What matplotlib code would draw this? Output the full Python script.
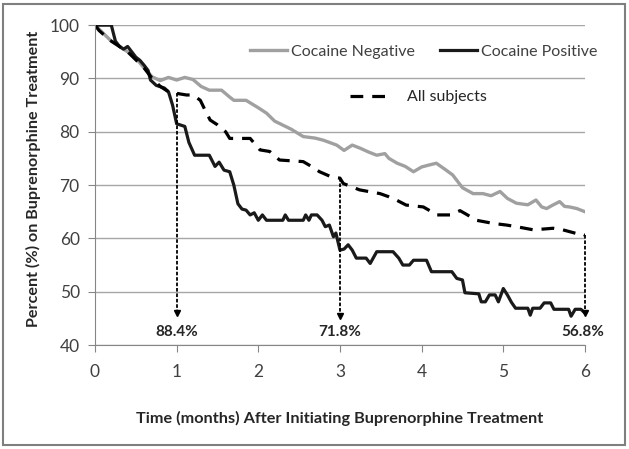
import matplotlib.pyplot as plt
from matplotlib.patches import Rectangle
from matplotlib.lines import Line2D

plt.rcParams['font.family'] = ['Lato', 'DejaVu Sans']

# Cocaine negative (grey)
neg_x = [0, 0.1, 0.2, 0.3, 0.4, 0.5, 0.6, 0.7, 0.8, 0.9, 1.0, 1.1, 1.2, 1.3, 1.4,
         1.55, 1.65, 1.7, 1.85, 2.0, 2.1, 2.2, 2.4, 2.55, 2.7, 2.8, 2.96, 3.05, 3.15,
         3.25, 3.35, 3.45, 3.55, 3.6, 3.7, 3.8, 3.9, 4.0, 4.1, 4.18, 4.3, 4.38, 4.45,
         4.5, 4.63, 4.75, 4.85, 4.96, 5.05, 5.16, 5.3, 5.4, 5.47, 5.53, 5.6, 5.69,
         5.75, 5.81, 5.9, 6.0]
neg_y = [100, 98.5, 97, 96, 95, 93.8, 92, 90.3, 89.6, 90.2, 89.7, 90.2, 89.8, 88.5, 87.8,
         87.8, 86.5, 85.9, 85.9, 84.5, 83.5, 82, 80.5, 79.1, 78.8, 78.4, 77.5, 76.5, 77.5,
         76.9, 76.2, 75.6, 75.9, 75, 74.1, 73.5, 72.5, 73.4, 73.8, 74.1, 72.8, 71.9, 70.5,
         69.5, 68.4, 68.4, 68, 68.8, 67.5, 66.6, 66.3, 67.2, 65.9, 65.6, 66.2, 66.9,
         66, 65.9, 65.6, 65.0]

# Cocaine positive (black)
pos_x = [0, 0.2, 0.25, 0.3, 0.35, 0.4, 0.45, 0.5, 0.55, 0.6, 0.65, 0.68, 0.75, 0.85,
         0.9, 0.95, 1.0, 1.1, 1.15, 1.22, 1.4, 1.47, 1.52, 1.58, 1.65, 1.7, 1.75, 1.8,
         1.85, 1.9, 1.95, 2.0, 2.05, 2.1, 2.3, 2.33, 2.37, 2.55, 2.58, 2.62, 2.65, 2.72,
         2.78, 2.82, 2.87, 2.92, 2.95, 3.0, 3.05, 3.1, 3.15, 3.2, 3.32, 3.37, 3.45, 3.65,
         3.72, 3.77, 3.85, 3.9, 4.06, 4.12, 4.37, 4.43, 4.5, 4.53, 4.7, 4.73, 4.78, 4.83,
         4.9, 4.94, 5.0, 5.05, 5.1, 5.15, 5.3, 5.33, 5.36, 5.45, 5.5, 5.58, 5.62, 5.8,
         5.83, 5.88, 5.95, 6.0]
pos_y = [100, 100, 97, 96, 95.5, 96, 95, 94, 93.4, 92.5, 91.5, 89.7, 88.7, 88.2,
         87.5, 85, 81.5, 81, 78, 75.6, 75.6, 73.5, 74.3, 72.8, 72.5, 70, 66.5, 65.5,
         65.3, 64.4, 64.8, 63.4, 64.4, 63.4, 63.4, 64.4, 63.4, 63.4, 64.4, 63.4, 64.4, 64.4,
         63.4, 62.2, 62.5, 60.3, 61, 57.8, 58, 58.8, 57.8, 56.3, 56.3, 55.3, 57.5, 57.5,
         56.3, 55, 55, 55.9, 55.9, 53.75, 53.75, 52.5, 52.2, 49.8, 49.6, 48.1, 48.1, 49.4,
         49.4, 48.1, 50.6, 49.4, 48, 46.9, 46.9, 45.6, 46.9, 46.9, 47.9, 47.9, 46.7, 46.7,
         45.4, 46.7, 46.7, 46.0]

# All subjects (dashed)
all_x = [0, 0.05, 0.18, 0.3, 0.4, 0.5, 0.6, 0.7, 0.8, 0.9, 1.0, 1.12, 1.2, 1.29, 1.35,
         1.41, 1.5, 1.6, 1.65, 1.9, 2.02, 2.14, 2.26, 2.55, 2.65, 2.75, 2.9, 3.0, 3.04,
         3.24, 3.49, 3.6, 3.69, 3.81, 4.02, 4.1, 4.18, 4.35, 4.47, 4.55, 4.67, 4.88,
         5.04, 5.16, 5.37, 5.61, 5.73, 5.9, 5.95, 6.0]
all_y = [100, 99, 97.2, 96, 95, 93.5, 92, 90, 88.5, 87.5, 87.2, 86.9, 86.9, 85.9, 84,
         82.2, 81.3, 80, 78.75, 78.75, 76.6, 76.3, 74.7, 74.4, 73.5, 72.5, 71.5, 71.3, 70.3,
         69.1, 68.4, 67.8, 67.2, 66.25, 65.9, 65.2, 64.4, 64.4, 65.2, 64.5, 63.4, 62.8,
         62.5, 62.2, 61.6, 61.9, 61.6, 60.9, 61, 60.6]

# retention callouts
arrow_x = [1, 3, 6]
arrow_top = [87.3, 71.4, 60.7]
arrow_bottom = [46, 45.5, 46]
arrow_labels = ['88.4%', '71.8%', '56.8%']
label_x = [1, 3, 5.97]

fig = plt.figure(figsize=(6.29, 4.49), dpi=100)
ax = fig.add_axes([0.151, 0.2316, 0.779, 0.7124])

ax.plot(neg_x, neg_y, color='#a0a0a0', lw=2.4)
ax.plot(pos_x, pos_y, color='#1a1a1a', lw=2.3)
ax.plot(all_x, all_y, color='black', lw=2.3, dashes=(4, 2.8))

for x, top, bot in zip(arrow_x, arrow_top, arrow_bottom):
    ax.plot([x, x], [top, bot + 0.6], color='black', lw=1.3, dashes=(2, 1), clip_on=False)
    ax.plot([x], [bot], marker='v', color='black', ms=5, clip_on=False)
for x, lab in zip(label_x, arrow_labels):
    ax.text(x, 42.5, lab, ha='center', va='center', fontsize=11, fontweight='bold',
            color='#262626', clip_on=False)

ax.set_xlim(0, 6)
ax.set_ylim(40, 100)
ax.set_xticks(range(0, 7))
ax.set_yticks(range(40, 101, 10))
ax.grid(axis='y', color='#a6a6a6', lw=1)
ax.set_axisbelow(True)
for s in ['top', 'right']:
    ax.spines[s].set_visible(False)
for s in ['left', 'bottom']:
    ax.spines[s].set_color('#868686')
ax.tick_params(colors='#868686', labelcolor='#404040', labelsize=12.5, length=5)
ax.tick_params(axis='y', pad=6)
ax.tick_params(axis='x', pad=9)

ax.set_xlabel('Time (months) After Initiating Buprenorphine Treatment',
              fontsize=11.7, fontweight='bold', color='#262626')
ax.xaxis.set_label_coords(0.5, -0.205)
ax.set_ylabel('Percent (%) on Buprenorphine Treatment',
              fontsize=11.6, fontweight='bold', color='#262626')
ax.yaxis.set_label_coords(-0.11, 0.52)

h1 = [Line2D([], [], color='#a0a0a0', lw=2.4), Line2D([], [], color='#1a1a1a', lw=2.3)]
leg1 = ax.legend(h1, ['Cocaine Negative', 'Cocaine Positive'], ncol=2, frameon=False,
                 loc='center left', bbox_to_anchor=(250 / 629, 1 - 52 / 449),
                 bbox_transform=fig.transFigure, borderpad=0, borderaxespad=0,
                 handlelength=2.3, handletextpad=0.25, columnspacing=1.6,
                 fontsize=11.5, labelcolor='#404040')
ax.add_artist(leg1)
h2 = [Line2D([], [], color='black', lw=2.3, dashes=(4, 2.8))]
ax.legend(h2, ['All subjects'], frameon=False, loc='center left',
          bbox_to_anchor=(350 / 629, 1 - 97 / 449), bbox_transform=fig.transFigure,
          borderpad=0, borderaxespad=0, handlelength=2.6, handletextpad=1.0,
          fontsize=11.5, labelcolor='#262626')

fig.patches.append(Rectangle((0.005, 0.008), 0.989, 0.984, transform=fig.transFigure,
                             fill=False, ec='#7f7f7f', lw=1.5))

plt.savefig('out.png', dpi=100)
